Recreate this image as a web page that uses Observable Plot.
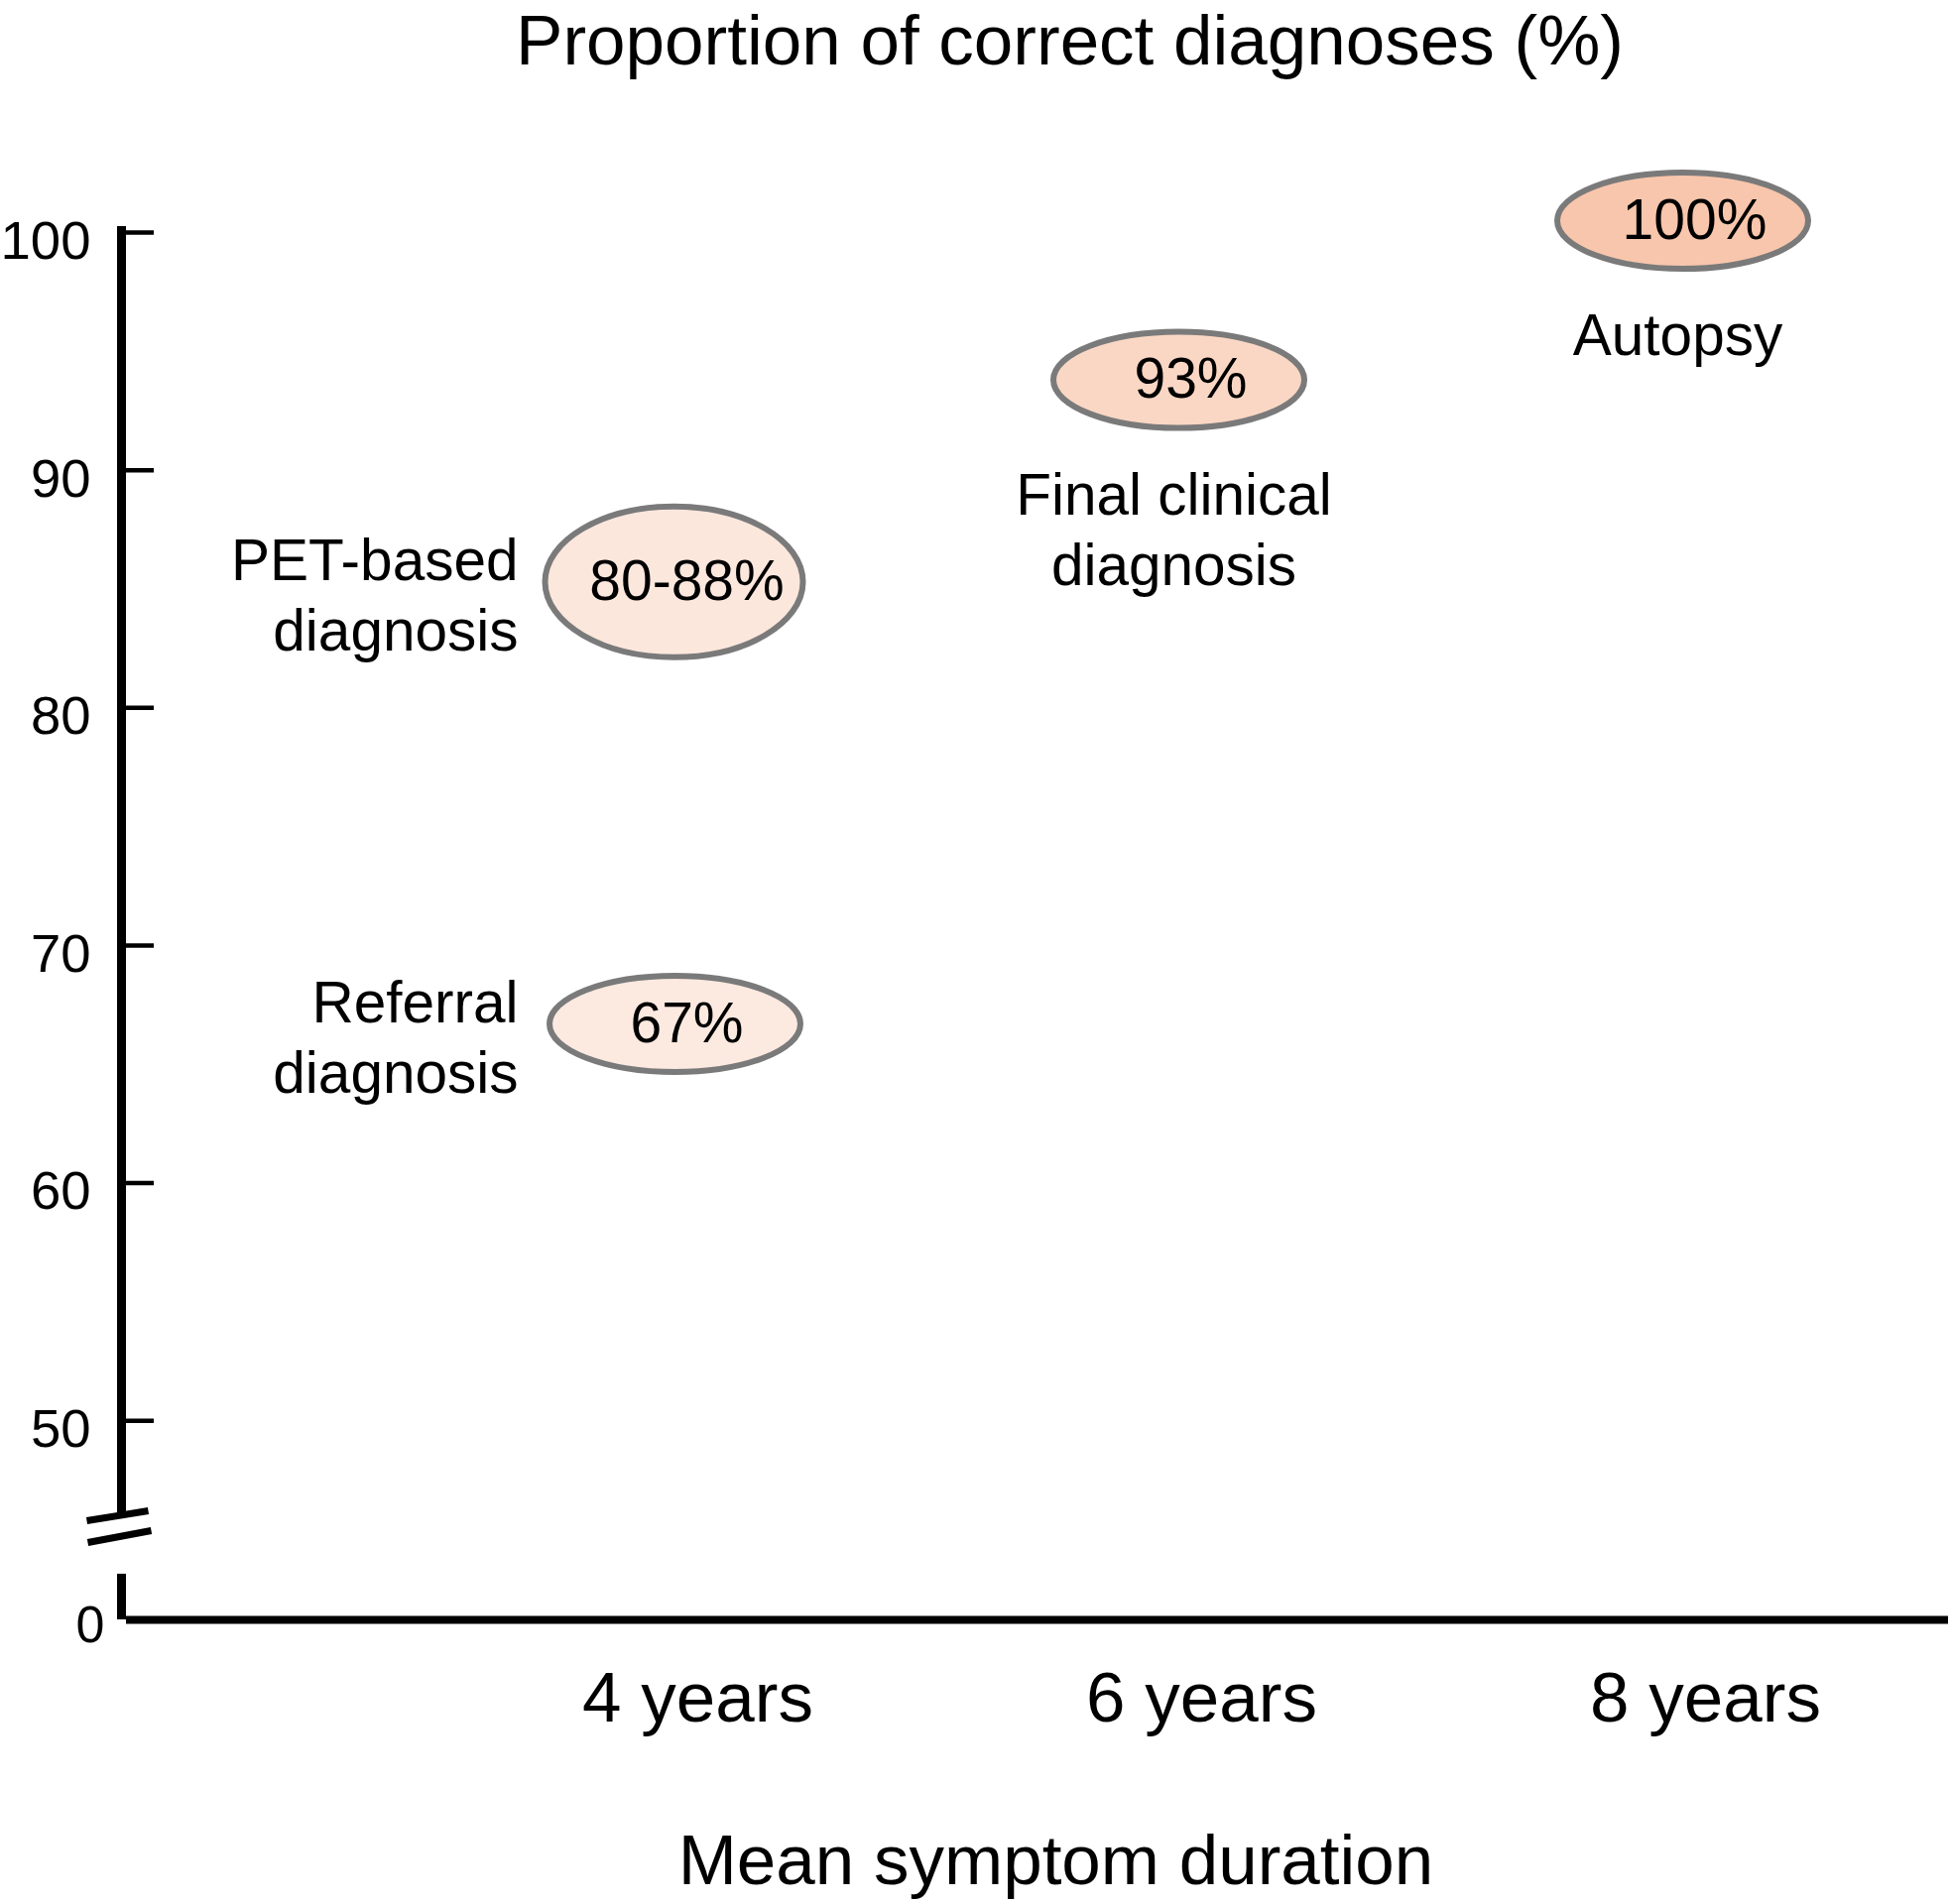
<!DOCTYPE html>
<html><head><meta charset="utf-8">
<script src="https://cdn.jsdelivr.net/npm/d3@7"></script>
<script src="https://cdn.jsdelivr.net/npm/@observablehq/plot@0.6"></script>
<style>body{margin:0;background:#fff}</style>
</head><body><div id="chart"></div>
<script>
// ---- data ----
const categories = ["Referral diagnosis", "PET-based diagnosis", "Final clinical diagnosis", "Autopsy"];
const durationYears = [4, 4, 6, 8];
const proportion = [66.7, 85.3, 93.8, 100.5];
const valueLabels = ["67%", "80-88%", "93%", "100%"];
const yTicks = [50, 60, 70, 80, 90, 100];
const yZeroTick = [0];
const xTicks = [4, 6, 8];
const xTickLabels = ["4 years", "6 years", "8 years"];
const title = "Proportion of correct diagnoses (%)";
const xLabel = "Mean symptom duration";

const rows = categories.map((c, i) => ({category: c, years: durationYears[i], value: proportion[i], label: valueLabels[i]}));

// ---- scales / styling ----
const xDomain = [1.7126, 8.9646];
const font = "'Liberation Sans', Arial, Helvetica, sans-serif";
const fills = ["#fce9e0", "#fce7dd", "#fad7c4", "#f8c6ac"];

function ellipse(rx) {
  return {draw(ctx, size) {
    const ry = Math.sqrt(size / Math.PI), k = 0.5522847498;
    ctx.moveTo(rx, 0);
    ctx.bezierCurveTo(rx, k * ry, k * rx, ry, 0, ry);
    ctx.bezierCurveTo(-k * rx, ry, -rx, k * ry, -rx, 0);
    ctx.bezierCurveTo(-rx, -k * ry, -k * rx, -ry, 0, -ry);
    ctx.bezierCurveTo(k * rx, -ry, rx, -k * ry, rx, 0);
    ctx.closePath();
  }};
}
const axisBreak = {draw(ctx) {
  ctx.moveTo(-35, -6); ctx.lineTo(27, -16);
  ctx.moveTo(-34, 16); ctx.lineTo(30, 4);
}};
const twoLines = (s) => s.replace(/ (\S+)$/, "\n$1");
const side = rows.filter(d => d.years === 4);
const below = rows.filter(d => d.years !== 4);

const chart = Plot.plot({
  width: 1968,
  height: 1920,
  marginLeft: 122,
  marginRight: 4,
  marginTop: 0,
  marginBottom: 0,
  style: {fontFamily: font, background: "#fff", color: "#000"},
  x: {type: "linear", domain: xDomain, axis: null},
  y: {type: "linear", domain: [0, 45, 100], range: [1633, 1552, 234], axis: null},
  color: {domain: categories, range: fills},
  marks: [
    // axes lines
    Plot.ruleX([xDomain[0]], {y1: 46.13, y2: 100.25, stroke: "#000", strokeWidth: 9}),
    Plot.ruleX([xDomain[0]], {y1: 0, y2: 25.6, stroke: "#000", strokeWidth: 9}),
    Plot.ruleY(yZeroTick, {x1: xDomain[0], x2: xDomain[1], insetLeft: 5, stroke: "#000", strokeWidth: 8}),
    Plot.dot([0], {x: () => xDomain[0], y: () => 45.54, symbol: axisBreak, r: 10, fill: "none", stroke: "#000", strokeWidth: 7}),
    // y ticks
    Plot.ruleY(yTicks, {x1: xDomain[0], x2: xDomain[0], insetRight: -33, stroke: "#000", strokeWidth: 4.5}),
    Plot.text(yTicks, {y: d => d, text: d => `${d}`, frameAnchor: "left", dx: -31, dy: 9, textAnchor: "end", fontSize: 54.5}),
    Plot.text(yZeroTick, {y: d => d, text: d => `${d}`, frameAnchor: "left", dx: -17, dy: 6, textAnchor: "end", fontSize: 52}),
    // x tick labels
    Plot.text(xTicks, {x: d => d, y: 0, text: (d, i) => xTickLabels[i], dy: 80, fontSize: 71}),
    // ellipses
    Plot.dot(rows.filter(d => d.category !== "PET-based diagnosis"), {x: "years", y: "value", dx: -23, r: 48.5, symbol: ellipse(126.5), fill: "category", stroke: "#7a7a7a", strokeWidth: 6}),
    Plot.dot(rows.filter(d => d.category === "PET-based diagnosis"), {x: "years", y: "value", dx: -24, r: 76, symbol: ellipse(130), fill: "category", stroke: "#7a7a7a", strokeWidth: 6}),
    Plot.text(rows, {x: "years", y: "value", text: "label", dx: -11, fontSize: 57}),
    // category labels
    Plot.text(side, {x: "years", y: "value", text: d => twoLines(d.category), textAnchor: "end", dx: -181, dy: 11, lineHeight: 1.22, fontSize: 58.5}),
    Plot.text(below, {x: "years", y: "value", text: d => twoLines(d.category), textAnchor: "middle", lineAnchor: "top", dx: -28, dy: 85, lineHeight: 1.22, fontSize: 58.5}),
    // title and x label
    Plot.text([title], {frameAnchor: "top", text: d => d, dx: 35, dy: 14, fontSize: 71}),
    Plot.text([xLabel], {frameAnchor: "bottom", text: d => d, dx: 21, dy: -21, fontSize: 71})
  ]
});
document.getElementById("chart").appendChild(chart);
</script>
</body></html>
